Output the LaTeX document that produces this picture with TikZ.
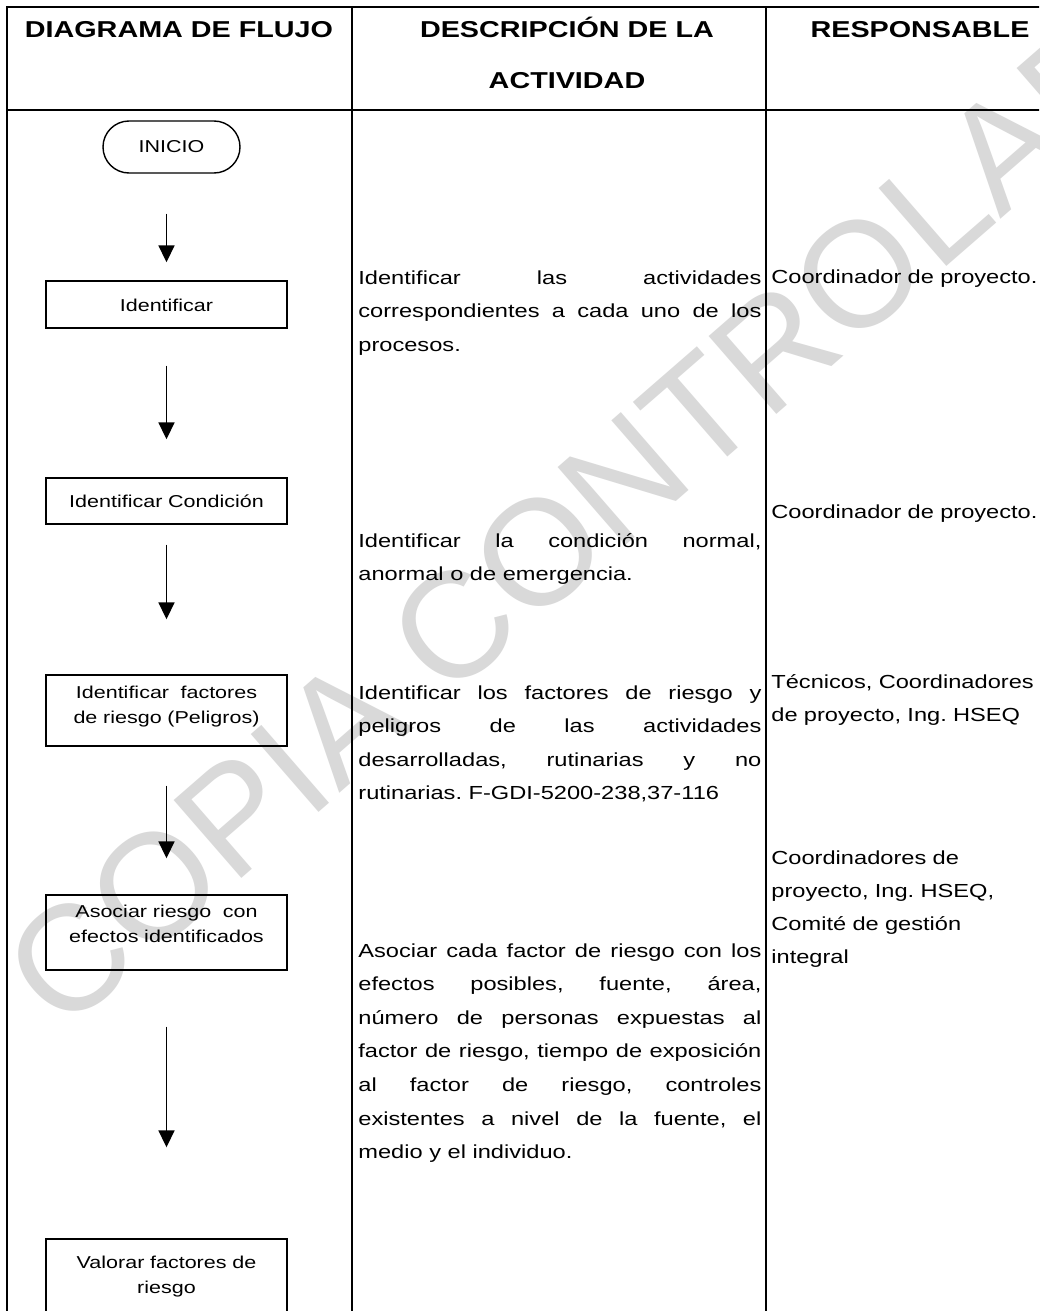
\documentclass[tikz,border=0pt]{standalone}
\usepackage{fontspec}
\setmainfont{Liberation Sans}[FakeStretch=1.25]
\newfontfamily\wmfont{Liberation Sans}
\usetikzlibrary{arrows.meta}
\hyphenpenalty=10000
\exhyphenpenalty=10000
\tolerance=9999
\frenchspacing

\begin{document}
\begin{tikzpicture}[
  x=0.5pt, y=-0.5pt,
  >={Triangle[length=8.5pt, width=8pt]},
  grid/.style={line width=1.1pt},
  head/.style={font=\bfseries\fontsize{11.5pt}{13pt}\selectfont, anchor=base, inner sep=0pt},
  term/.style={draw, line width=0.7pt, rounded corners=13pt, minimum width=68.5pt,
    minimum height=26pt, inner sep=0pt, font=\fontsize{8.6pt}{12.5pt}\selectfont},
  box/.style={draw, line width=0.7pt, text width=120.5pt, align=center, inner sep=0pt,
    anchor=base, font=\fontsize{8.6pt}{12.5pt}\selectfont},
  desc/.style={text width=201.5pt, align=justify, inner sep=0pt, anchor=base west,
    font=\fontsize{9.45pt}{16.8pt}\selectfont},
  resp/.style={text width=140pt, align=left, inner sep=0pt, anchor=base west,
    font=\fontsize{9.45pt}{16.5pt}\selectfont},
  arr/.style={->, line width=0.9pt},
  wm/.style={font=\wmfont\fontsize{75pt}{80pt}\selectfont, text=black!15, inner sep=0pt}
]
\useasboundingbox (0,0) rectangle (1039,1311);
\fill[white] (0,0) rectangle (1039,1311);
\clip (0,0) rectangle (1039,1311);

% watermark
\node[wm, rotate=41] (wmark) at (614,487) {COPIA CONTROLADA};

% table
\draw[grid] (1080,7) -- (7,7) -- (7,1330);
\draw[grid] (7,110) -- (1080,110);
\draw[grid] (352,7) -- (352,1330);
\draw[grid] (766,7) -- (766,1330);

\node[head] (hflujo) at (179,38) {DIAGRAMA DE FLUJO};
\node[head] (hdesc) at (567,38) {DESCRIPCIÓN DE LA};
\node[head] (hact) at (567,89) {ACTIVIDAD};
\node[head] (hresp) at (920,38) {RESPONSABLE};

% flow chart
\node[term] (ini) at (171.5,147) {INICIO};
\node[box, text height=15pt, text depth=8.5pt] (b1) at (166.5,311) {Identificar};
\node[box, text height=14.5pt, text depth=8.5pt] (b2) at (166.5,507) {Identificar Condición};
\node[box, text height=11.5pt, text depth=24pt] (b3) at (166.5,698)
  {Identificar\ \ factores\\de riesgo (Peligros)};
\node[box, text height=11pt, text depth=26.5pt] (b4) at (166.5,917)
  {Asociar riesgo\ \ con\\efectos identificados};
\node[box, text height=14.5pt, text depth=26pt] (b5) at (166.5,1268)
  {Valorar factores de\\riesgo};

\draw[arr, shorten <=20pt, shorten >=9pt] (ini.south -| b1.north) -- (b1.north);
\draw[arr, shorten <=18.5pt, shorten >=19pt] (b1.south) -- (b2.north);
\draw[arr, shorten <=10pt, shorten >=27.5pt] (b2.south) -- (b3.north);
\draw[arr, shorten <=19.5pt, shorten >=18pt] (b3.south) -- (b4.north);
\draw[arr, shorten <=28pt, shorten >=45.5pt] (b4.south) -- (b5.north);

% descriptions
\node[desc] (d1) at (358,284) {Identificar las actividades\linebreak
  correspondientes a cada uno de los\linebreak procesos.};
\node[desc] (d2) at (358,547) {Identificar la condición normal,\linebreak
  anormal o de emergencia.};
\node[desc] (d3) at (358,699) {Identificar los factores de riesgo y\linebreak
  peligros de las actividades\linebreak desarrolladas, rutinarias y no\linebreak
  rutinarias. F-GDI-5200-238,37-116};
\node[desc] (d4) at (358,957) {Asociar cada factor de riesgo con los\linebreak
  efectos posibles, fuente, área,\linebreak número de personas expuestas al\linebreak
  factor de riesgo, tiempo de exposición\linebreak al factor de riesgo, controles\linebreak
  existentes a nivel de la fuente, el\linebreak medio y el individuo.};

% responsible
\node[resp] (r1) at (771,283) {Coordinador de proyecto.};
\node[resp] (r2) at (771,518) {Coordinador de proyecto.};
\node[resp] (r3) at (771,688) {Técnicos, Coordinadores\\de proyecto, Ing. HSEQ};
\node[resp] (r4) at (771,864) {Coordinadores de\\proyecto, Ing. HSEQ,\\Comité de gestión\\integral};
\end{tikzpicture}
\end{document}
